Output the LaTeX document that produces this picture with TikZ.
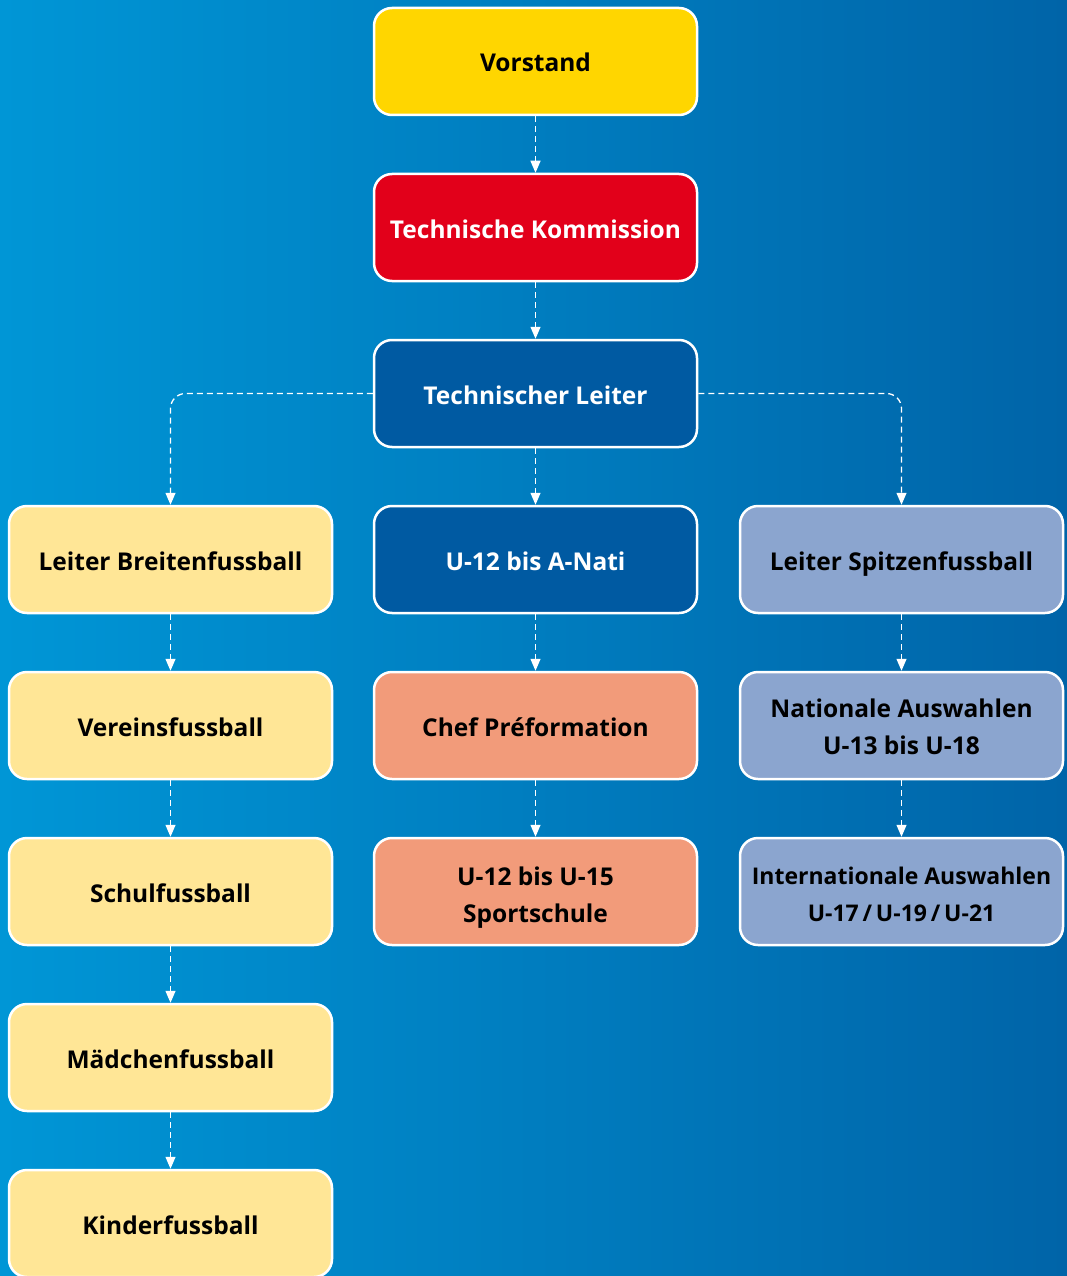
\documentclass[tikz,border=0pt]{standalone}
\usepackage{fontspec}
\setmainfont{Open Sans}
\usetikzlibrary{arrows.meta}
\definecolor{bgL}{RGB}{0,150,214}
\definecolor{bgR}{RGB}{0,100,168}
\definecolor{cYellow}{RGB}{255,214,0}
\definecolor{cRed}{RGB}{226,0,26}
\definecolor{cDark}{RGB}{0,90,162}
\definecolor{cLight}{RGB}{255,230,150}
\definecolor{cSalmon}{RGB}{242,155,122}
\definecolor{cGrey}{RGB}{139,165,207}
\begin{document}
\begin{tikzpicture}[x=1pt,y=-1pt,
  box/.style={draw=white, line width=2.5pt, rounded corners=18pt,
    minimum width=323pt, minimum height=107pt, align=center, inner sep=0pt,
    text height=21pt, text depth=0pt,
    font=\fontsize{24.5}{37}\selectfont\bfseries, text=black},
  twoline/.style={text height=58pt, text depth=0pt},
  conn/.style={draw=white, line width=1.3pt, dash pattern=on 6pt off 4pt,
    -{Triangle[length=12pt,width=10pt]}},
  sideconn/.style={conn, rounded corners=15pt}]
\useasboundingbox (0,0) rectangle (1067,1276);
\clip (0,0) rectangle (1067,1276);
\shade[left color=bgL, right color=bgR] (0,0) rectangle (1067,1276);

\node[box, fill=cYellow] (vor) at (535.5,61.5) {Vorstand};
\node[box, fill=cRed, text=white] (tk) at (535.5,227.5) {Technische Kommission};
\node[box, fill=cDark, text=white] (tl) at (535.5,393.5) {Technischer Leiter};

\node[box, fill=cLight] (lb) at (170.5,559.5) {Leiter Breitenfussball};
\node[box, fill=cDark, text=white] (un) at (535.5,559.5) {U-12 bis A-Nati};
\node[box, fill=cGrey] (ls) at (901.5,559.5) {Leiter Spitzenfussball};

\node[box, fill=cLight] (vf) at (170.5,725.5) {Vereinsfussball};
\node[box, fill=cSalmon] (cp) at (535.5,725.5) {Chef Préformation};
\node[box, twoline, fill=cGrey] (na) at (901.5,725.5) {Nationale Auswahlen\\U-13 bis U-18};

\node[box, fill=cLight] (sf) at (170.5,891.5) {Schulfussball};
\node[box, twoline, text height=62pt, fill=cSalmon] (us) at (535.5,891.5) {U-12 bis U-15\\Sportschule};
\node[box, twoline, text height=60pt, fill=cGrey, font=\fontsize{23}{37}\selectfont\bfseries] (ia) at (901.5,891.5) {Internationale Auswahlen\\U-17\,/\,U-19\,/\,U-21};

\node[box, fill=cLight] (mf) at (170.5,1057.5) {Mädchenfussball};
\node[box, fill=cLight] (kf) at (170.5,1223.5) {Kinderfussball};

\draw[conn] (vor.south) -- (tk.north);
\draw[conn] (tk.south) -- (tl.north);
\draw[conn] (tl.south) -- (un.north);
\draw[sideconn] (tl.west) -| (lb.north);
\draw[sideconn] (tl.east) -| (ls.north);
\draw[conn] (lb.south) -- (vf.north);
\draw[conn] (vf.south) -- (sf.north);
\draw[conn] (sf.south) -- (mf.north);
\draw[conn] (mf.south) -- (kf.north);
\draw[conn] (un.south) -- (cp.north);
\draw[conn] (cp.south) -- (us.north);
\draw[conn] (ls.south) -- (na.north);
\draw[conn] (na.south) -- (ia.north);
\end{tikzpicture}
\end{document}
